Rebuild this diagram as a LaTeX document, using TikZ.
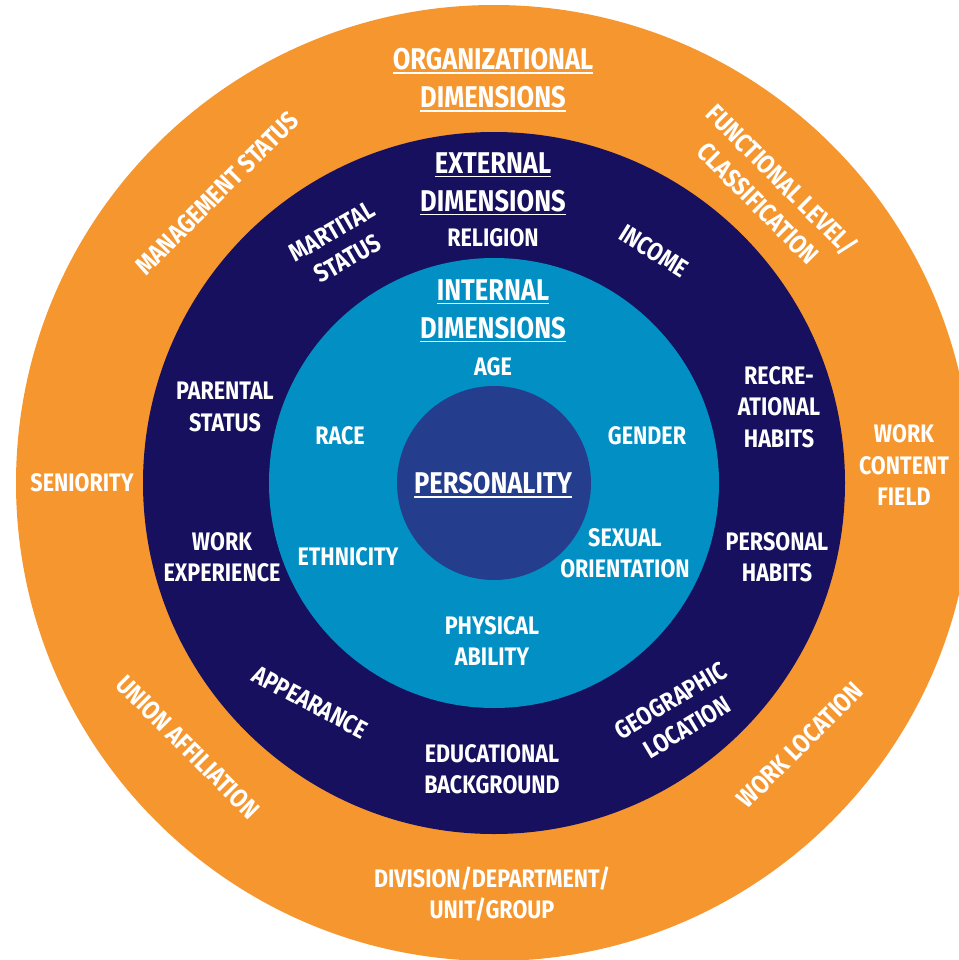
\documentclass[tikz,border=0pt]{standalone}
\usepackage{fontspec}
\setmainfont[FakeStretch=0.85]{Fira Sans}
\definecolor{orng}{HTML}{F6962F}
\definecolor{navy}{HTML}{16105E}
\definecolor{lblue}{HTML}{0290C4}
\definecolor{core}{HTML}{253D8D}
\newcommand\ulin[1]{\setbox0\hbox{#1}\rlap{\rule[-3pt]{\wd0}{1.1pt}}\box0}
\begin{document}
\begin{tikzpicture}[x=0.75pt,y=-0.75pt,
  lbl/.style={text=white,font=\fontsize{19}{23.5}\selectfont\bfseries,align=center,inner sep=0pt},
  olbl/.style={lbl,font=\fontsize{19.5}{25}\selectfont\bfseries},
  hdr/.style={text=white,font=\fontsize{22.5}{28.5}\selectfont\bfseries,align=center,inner sep=0pt}]
\useasboundingbox (0,0) rectangle (959,960);
\clip (0,0) rectangle (959,960);
\coordinate (c) at (494,483);
\fill[orng] (c) circle (478);
\fill[navy] (c) circle (351);
\fill[lblue] (c) circle (225);
\fill[core] (c) circle (97);
% organizational ring
\node[hdr] (org) at (493,80) {\ulin{ORGANIZATIONAL}\\\ulin{DIMENSIONS}};
\node[olbl,rotate=45] (mgmt) at (217,193) {MANAGEMENT STATUS};
\node[olbl,rotate=-45] (func) at (771,191) {FUNCTIONAL LEVEL/\\CLASSIFICATION};
\node[lbl] (senior) at (82,483) {SENIORITY};
\node[lbl] (wcf) at (904,465) {WORK\\CONTENT\\FIELD};
\node[olbl,rotate=-45] (union) at (188,747) {UNION AFFILIATION};
\node[lbl] (div) at (492,894) {DIVISION/DEPARTMENT/\\UNIT/GROUP};
\node[olbl,rotate=45] (wloc) at (800,745) {WORK LOCATION};
% external ring
\node[hdr] (ext) at (493,184) {\ulin{EXTERNAL}\\\ulin{DIMENSIONS}};
\node[lbl] (relig) at (493,238) {RELIGION};
\node[lbl,rotate=30] (marital) at (340,245) {MARTITAL\\STATUS};
\node[lbl,rotate=-32] (income) at (654,251) {INCOME};
\node[lbl] (parental) at (225,407) {PARENTAL\\STATUS};
\node[lbl] (recre) at (779,407) {RECRE-\\ATIONAL\\HABITS};
\node[lbl] (workexp) at (222,557) {WORK\\EXPERIENCE};
\node[lbl] (pershab) at (777,557) {PERSONAL\\HABITS};
\node[lbl,rotate=-28] (appear) at (310,702) {APPEARANCE};
\node[lbl] (edu) at (492,769) {EDUCATIONAL\\BACKGROUND};
\node[lbl,rotate=31] (geo) at (679,714) {GEOGRAPHIC\\LOCATION};
% internal ring
\node[hdr] (int) at (493,311) {\ulin{INTERNAL}\\\ulin{DIMENSIONS}};
\node[lbl] (age) at (493,367) {AGE};
\node[lbl] (race) at (340,436) {RACE};
\node[lbl] (gender) at (647,436) {GENDER};
\node[lbl] (eth) at (348,557) {ETHNICITY};
\node[lbl] (sexual) at (625,553) {SEXUAL\\ORIENTATION};
\node[lbl] (phys) at (492,641) {PHYSICAL\\ABILITY};
% core
\node[hdr] (personality) at (493,485) {\ulin{PERSONALITY}};
\end{tikzpicture}
\end{document}
